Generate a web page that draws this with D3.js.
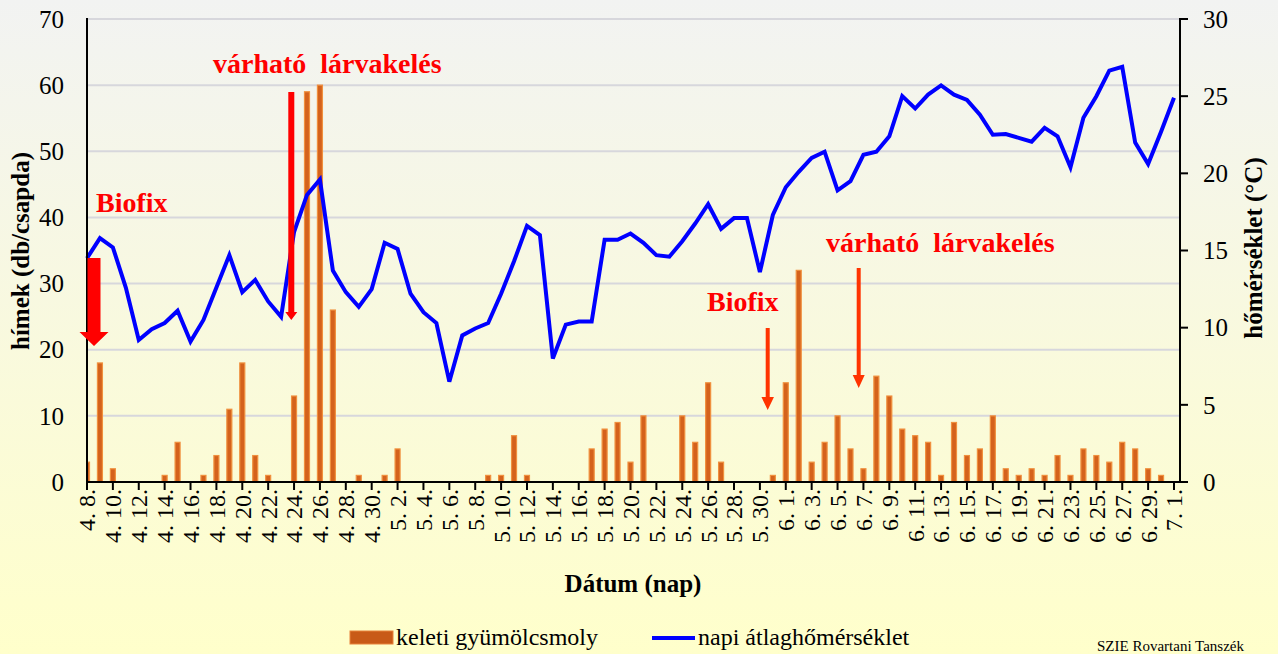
<!DOCTYPE html>
<html><head><meta charset="utf-8">
<script src="https://cdn.jsdelivr.net/npm/d3@7"></script>
<style>
html,body{margin:0;padding:0;overflow:hidden;background:#fff;}
svg text{font-family:"Liberation Serif","DejaVu Serif","Noto Serif","Times New Roman",Times,serif;}
</style>
</head><body>
<svg id="c" width="1278" height="654"></svg>
<script>
const dates = ["4. 8.","4. 9.","4. 10.","4. 11.","4. 12.","4. 13.","4. 14.","4. 15.","4. 16.","4. 17.","4. 18.","4. 19.","4. 20.","4. 21.","4. 22.","4. 23.","4. 24.","4. 25.","4. 26.","4. 27.","4. 28.","4. 29.","4. 30.",
"5. 1.","5. 2.","5. 3.","5. 4.","5. 5.","5. 6.","5. 7.","5. 8.","5. 9.","5. 10.","5. 11.","5. 12.","5. 13.","5. 14.","5. 15.","5. 16.","5. 17.","5. 18.","5. 19.","5. 20.","5. 21.","5. 22.","5. 23.","5. 24.","5. 25.","5. 26.","5. 27.","5. 28.","5. 29.","5. 30.","5. 31.",
"6. 1.","6. 2.","6. 3.","6. 4.","6. 5.","6. 6.","6. 7.","6. 8.","6. 9.","6. 10.","6. 11.","6. 12.","6. 13.","6. 14.","6. 15.","6. 16.","6. 17.","6. 18.","6. 19.","6. 20.","6. 21.","6. 22.","6. 23.","6. 24.","6. 25.","6. 26.","6. 27.","6. 28.","6. 29.","6. 30.","7. 1."];
const moths = [3,18,2,0,0,0,1,6,0,1,4,11,18,4,1,0,13,59,60,26,0,1,0,
1,5,0,0,0,0,0,0,1,1,7,1,0,0,0,0,5,8,9,3,10,0,0,10,6,15,3,0,0,0,1,
15,32,3,6,10,5,2,16,13,8,7,6,1,9,4,5,10,2,1,2,1,4,1,5,4,3,6,5,2,1,0];
const temps = [14.5,15.8,15.2,12.6,9.2,9.9,10.3,11.1,9.1,10.5,12.6,14.7,12.3,13.1,11.7,10.7,16.2,18.6,19.6,13.7,12.3,11.35,12.5,
15.5,15.1,12.2,11.0,10.3,6.5,9.5,9.95,10.3,12.2,14.3,16.6,16.0,8.0,10.2,10.4,10.4,15.7,15.7,16.1,15.5,14.7,14.6,15.6,16.75,18.0,16.4,17.1,17.1,13.6,17.3,
19.1,20.1,21.0,21.4,18.9,19.5,21.2,21.4,22.4,25.0,24.2,25.1,25.7,25.1,24.75,23.8,22.5,22.55,22.3,22.05,22.95,22.4,20.4,23.6,25.0,26.65,26.9,22.0,20.6,22.7,24.9];
const leftTicks = [0,10,20,30,40,50,60,70];
const rightTicks = [0,5,10,15,20,25,30];
const tickDates = dates.filter((d,i)=>i%2===0);
const seriesNames = ["keleti gyümölcsmoly","napi átlaghőmérséklet"];
const leftTitle = "hímek (db/csapda)";
const rightTitle = "hőmérséklet (°C)";
const xTitle = "Dátum (nap)";

const svg = d3.select("#c");
const W=1278,H=654;
const L=87,R=1180,T=19,B=482;
const defs = svg.append("defs");
const g = defs.append("linearGradient").attr("id","bg").attr("x1",0).attr("y1",0).attr("x2",0).attr("y2",1);
g.append("stop").attr("offset","0%").attr("stop-color","#f2f3f2");
g.append("stop").attr("offset","100%").attr("stop-color","#ffffcb");
defs.append("clipPath").attr("id","pc").append("rect").attr("x",L).attr("y",0).attr("width",R-L).attr("height",B);
svg.append("rect").attr("width",W).attr("height",H).attr("fill","url(#bg)");

const x = d3.scalePoint().domain(dates).range([L,1174]);
const yL = d3.scaleLinear().domain([0,70]).range([B,T]);
const yR = d3.scaleLinear().domain([0,30]).range([B,T]);

// gridlines
svg.append("g").selectAll("line").data(leftTicks.filter(v=>v>0)).join("line")
  .attr("x1",L).attr("x2",R).attr("y1",d=>yL(d)).attr("y2",d=>yL(d))
  .attr("stroke","#d7d7dc").attr("stroke-width",2);

// bars
svg.append("g").attr("clip-path","url(#pc)").selectAll("rect").data(dates.map((d,i)=>({d,v:moths[i]})).filter(o=>o.v>0)).join("rect")
  .attr("x",o=>x(o.d)-2.5).attr("width",5)
  .attr("y",o=>yL(o.v)).attr("height",o=>yL(0)-yL(o.v))
  .attr("fill","#d4621c").attr("stroke","#f0903e").attr("stroke-width",1.2);

// temperature line
svg.append("path").datum(dates.map((d,i)=>({d,v:temps[i]})))
  .attr("d",d3.line().x(o=>x(o.d)).y(o=>yR(o.v)))
  .attr("fill","none").attr("stroke","#0000ff").attr("stroke-width",4).attr("stroke-linejoin","miter");

// axes
const ax = svg.append("g").attr("stroke","#000").attr("stroke-width",2);
ax.append("line").attr("x1",L).attr("x2",L).attr("y1",T-1).attr("y2",B+1);
ax.append("line").attr("x1",R).attr("x2",R).attr("y1",T-1).attr("y2",B+1);
ax.append("line").attr("x1",L-1).attr("x2",R+1).attr("y1",B).attr("y2",B);
ax.selectAll(".xt").data(tickDates).join("line").attr("x1",d=>x(d)).attr("x2",d=>x(d)).attr("y1",B).attr("y2",B+8);
ax.selectAll(".rt").data(rightTicks).join("line").attr("x1",R).attr("x2",R+8).attr("y1",d=>yR(d)).attr("y2",d=>yR(d));

svg.append("g").selectAll("text").data(leftTicks).join("text")
  .attr("x",64).attr("y",d=>yL(d)).attr("dy","0.35em").attr("text-anchor","end")
  .attr("font-size",25).text(d=>d);
svg.append("g").selectAll("text").data(rightTicks).join("text")
  .attr("x",1203).attr("y",d=>yR(d)).attr("dy","0.35em").attr("text-anchor","start")
  .attr("font-size",25).text(d=>d);
svg.append("g").selectAll("text").data(tickDates).join("text")
  .attr("transform",d=>`translate(${x(d)},489) rotate(-90)`).attr("dy","0.35em").attr("text-anchor","end")
  .attr("font-size",24).style("white-space","pre").text(d=>d);

// titles
svg.append("text").attr("transform","translate(29,251) rotate(-90)").attr("text-anchor","middle")
  .attr("font-weight","bold").attr("font-size",25).text(leftTitle);
svg.append("text").attr("transform","translate(1262,248) rotate(-90)").attr("text-anchor","middle")
  .attr("font-weight","bold").attr("font-size",25).text(rightTitle);
svg.append("text").attr("x",633).attr("y",592).attr("text-anchor","middle")
  .attr("font-weight","bold").attr("font-size",25).text(xTitle);

// annotations
function arrow(cx, y0, y1, sw, hw, hh, col){
  const p = `M${cx-sw/2},${y0} L${cx+sw/2},${y0} L${cx+sw/2},${y1-hh} L${cx+hw/2},${y1-hh} L${cx},${y1} L${cx-hw/2},${y1-hh} L${cx-sw/2},${y1-hh} Z`;
  svg.append("path").attr("d",p).attr("fill",col);
}
arrow(94,258,346,13,29,14,"#ff0000");
arrow(291.3,92,320,6,12,8,"#ff0000");
arrow(767.7,328,410,4,12.5,13,"#ff3300");
arrow(858.7,268,388,4,12,13,"#ff3300");
const ann = [["Biofix",96,212],["várható  lárvakelés",213,73],["Biofix",707,311],["várható  lárvakelés",826,252]];
svg.append("g").selectAll("text").data(ann).join("text")
  .attr("x",d=>d[1]).attr("y",d=>d[2]).attr("fill","#ff0000")
  .attr("font-weight","bold").attr("font-size",28)
  .style("white-space","pre").text(d=>d[0]);

// legend
svg.append("rect").attr("x",350).attr("y",631).attr("width",43).attr("height",13).attr("fill","#c85a18").attr("stroke","#e8823a").attr("stroke-width",1);
svg.append("text").attr("x",396).attr("y",645).attr("font-size",24).text(seriesNames[0]);
svg.append("line").attr("x1",652).attr("x2",695).attr("y1",638).attr("y2",638).attr("stroke","#0000ff").attr("stroke-width",4);
svg.append("text").attr("x",698).attr("y",645).attr("font-size",24).text(seriesNames[1]);
svg.append("text").attr("x",1097).attr("y",651).attr("font-size",15).text("SZIE Rovartani Tanszék");
</script>
</body></html>
